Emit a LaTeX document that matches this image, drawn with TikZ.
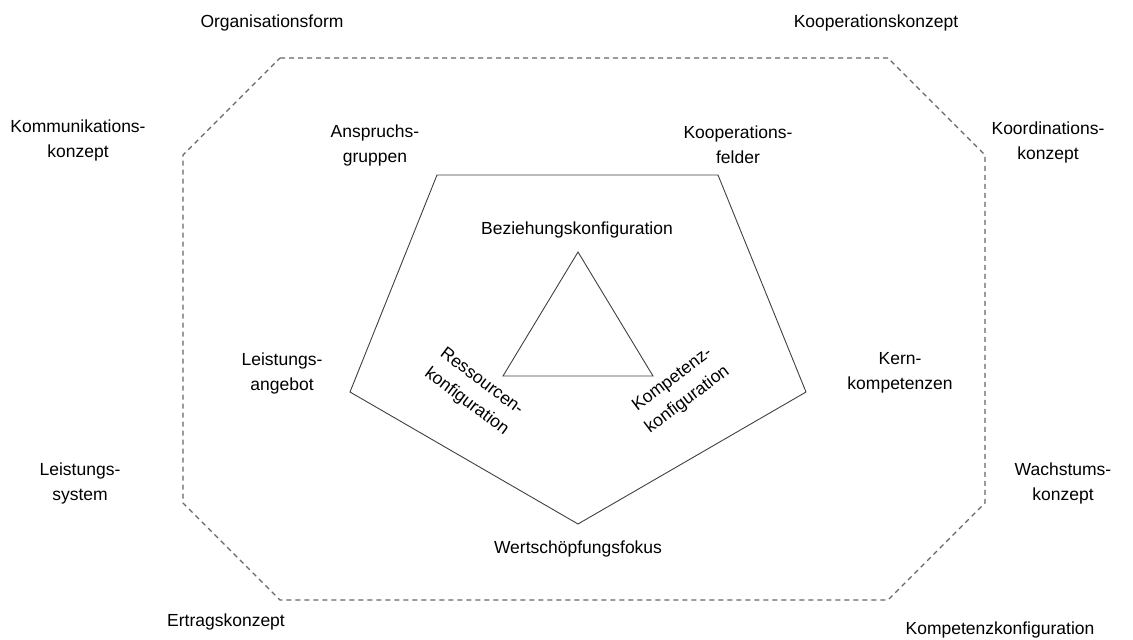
\documentclass[tikz,border=0pt]{standalone}
\usepackage{fontspec}
\setmainfont{Liberation Sans}
\begin{document}
\begin{tikzpicture}[x=1pt,y=-1pt,
  lbl/.style={align=center,font=\fontsize{17.5}{25}\selectfont,inner sep=0pt},
  outer/.style={draw=black!60,dashed,dash pattern=on 5pt off 4pt,line width=1.1pt},
  inner/.style={draw=black!75,line width=0.9pt},
  core/.style={draw=black!75,line width=0.9pt}]
\useasboundingbox (0,0) rectangle (1133,640);
% dashed octagon
\coordinate (o1) at (280,58);
\coordinate (o2) at (888,58);
\coordinate (o3) at (985,155);
\coordinate (o4) at (985,503);
\coordinate (o5) at (888,600);
\coordinate (o6) at (280,600);
\coordinate (o7) at (183,503);
\coordinate (o8) at (183,155);
\draw[outer] (o1) -- (o2) -- (o3) -- (o4) -- (o5) -- (o6) -- (o7) -- (o8) -- cycle;
% pentagon
\coordinate (p1) at (437,175);
\coordinate (p2) at (718,175);
\coordinate (p3) at (806,392);
\coordinate (p4) at (578,524);
\coordinate (p5) at (350,392);
\draw[inner] (p1) -- (p2) -- (p3) -- (p4) -- (p5) -- cycle;
% triangle
\coordinate (t1) at (578,252);
\coordinate (t2) at (653,376);
\coordinate (t3) at (503,376);
\draw[core] (t1) -- (t2) -- (t3) -- cycle;
% outer labels
\node[lbl] (l1) at (272,23) {Organisationsform};
\node[lbl] (l2) at (876,23) {Kooperationskonzept};
\node[lbl] (l3) at (78,140) {Kommunikations-\\konzept};
\node[lbl] (l4) at (1048,142) {Koordinations-\\konzept};
\node[lbl] (l5) at (80,483) {Leistungs-\\system};
\node[lbl] (l6) at (1063,483) {Wachstums-\\konzept};
\node[lbl] (l7) at (226,622) {Ertragskonzept};
\node[lbl] (l8) at (1000,630) {Kompetenzkonfiguration};
% pentagon labels
\node[lbl] (m1) at (375,145) {Anspruchs-\\gruppen};
\node[lbl] (m2) at (738,145) {Kooperations-\\felder};
\node[lbl] (m3) at (282,373) {Leistungs-\\angebot};
\node[lbl] (m4) at (900,373) {Kern-\\kompetenzen};
\node[lbl] (m5) at (578,549) {Wertschöpfungsfokus};
% triangle labels
\node[lbl,rotate=-37] (c2) at (474,392) {Ressourcen-\\konfiguration};
\node[lbl,rotate=37] (c3) at (680,390) {Kompetenz-\\konfiguration};
\node[lbl] (c1) at (577,230) {Beziehungskonfiguration};
\end{tikzpicture}
\end{document}
